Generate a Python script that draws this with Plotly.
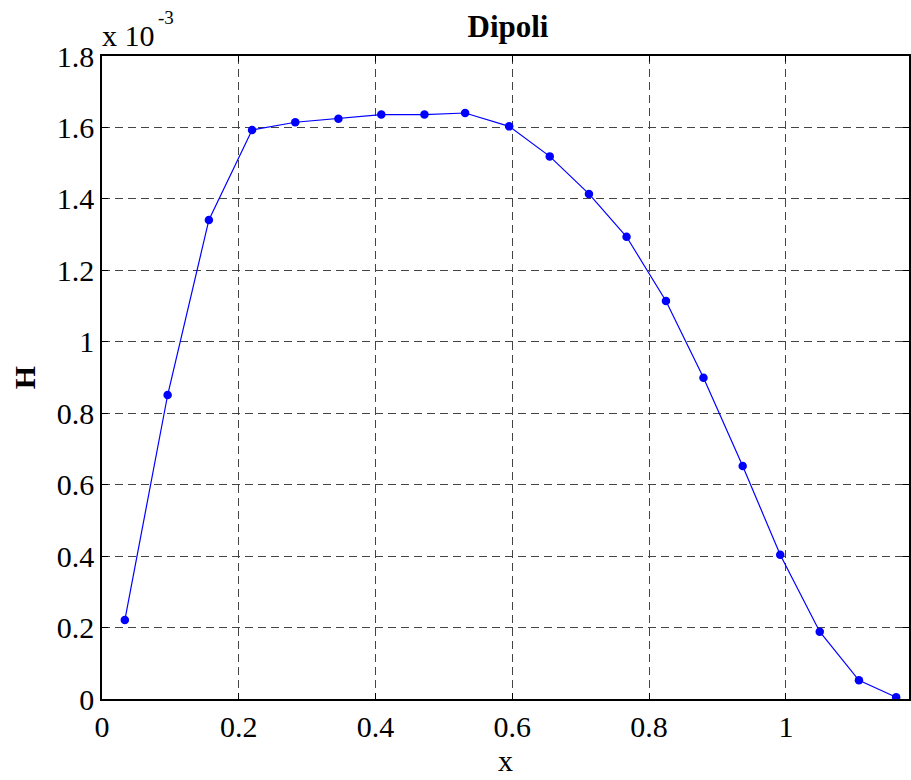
import numpy as np
import plotly.graph_objects as go

# data (H in units of 1e-3)
x_vals = [0.0334, 0.0960, 0.1563, 0.2194, 0.2826, 0.3457, 0.4084, 0.4715, 0.5310, 0.5954,
          0.6547, 0.7120, 0.7670, 0.8246, 0.8795, 0.9368, 0.9917, 1.0495, 1.1068, 1.1612]
h_vals = [0.221, 0.851, 1.341, 1.593, 1.6145, 1.6246, 1.636, 1.636, 1.6405, 1.603,
          1.519, 1.414, 1.294, 1.114, 0.899, 0.652, 0.404, 0.1885, 0.0523, 0.0047]
scale = 1e-3
y_tick_vals = [0, 0.2, 0.4, 0.6, 0.8, 1.0, 1.2, 1.4, 1.6, 1.8]
y_tick_text = ["0", "0.2", "0.4", "0.6", "0.8", "1", "1.2", "1.4", "1.6", "1.8"]
x_tick_vals = [0, 0.2, 0.4, 0.6, 0.8, 1.0]
x_tick_text = ["0", "0.2", "0.4", "0.6", "0.8", "1"]

FONT = "'Liberation Serif', 'Times New Roman', Times, serif"
FS = 30

fig = go.Figure()
fig.add_trace(go.Scatter(
    x=x_vals, y=np.array(h_vals) * scale, mode="lines+markers",
    line=dict(color="#0000ff", width=1.2),
    marker=dict(color="#0000ff", size=8.5),
    showlegend=False,
))

axis_common = dict(
    showline=True, linecolor="black", linewidth=1.5, mirror="ticks",
    ticks="inside", ticklen=6, tickcolor="black", tickwidth=1,
    showgrid=True, gridcolor="#444444", gridwidth=1.3, griddash="8px,5px",
    zeroline=False,
    tickfont=dict(family=FONT, size=FS, color="black"),
)

fig.update_xaxes(
    range=[0, 1.18], tickvals=x_tick_vals, ticktext=x_tick_text,
    title=dict(text="x", font=dict(family=FONT, size=FS, color="black"), standoff=8),
    **axis_common,
)
fig.update_yaxes(
    range=[0, 1.8 * scale], tickvals=[v * scale for v in y_tick_vals], ticktext=y_tick_text,
    title=dict(text="<b>H</b>", font=dict(family=FONT, size=FS, color="black"), standoff=12),
    **axis_common,
)

# exponent label "x 10^-3"
fig.add_annotation(
    text="x 10", xref="paper", yref="paper", x=0.0, y=1.0,
    xanchor="left", yanchor="bottom", showarrow=False, yshift=2, xshift=-2,
    font=dict(family=FONT, size=FS, color="black"),
)
fig.add_annotation(
    text="-3", xref="paper", yref="paper", x=(156 - 102) / 809, y=1 + (56 - 17.5) / 643,
    xanchor="left", yanchor="middle", showarrow=False,
    font=dict(family=FONT, size=19, color="black"),
)

fig.update_layout(
    width=911, height=780,
    margin=dict(l=102, r=0, t=56, b=81),
    paper_bgcolor="white", plot_bgcolor="white",
    title=dict(text="<b>Dipoli</b>", x=508 / 911, xref="container", xanchor="center",
               y=1 - 26 / 780, yref="container", yanchor="middle",
               font=dict(family=FONT, size=31, color="black")),
)

fig.write_html("out.html")
